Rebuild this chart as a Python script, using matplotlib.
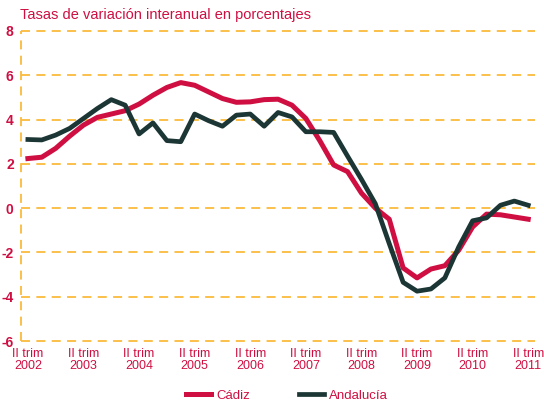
import matplotlib
matplotlib.use('Agg')
import matplotlib.pyplot as plt
import numpy as np

# Tasas de variación interanual, trimestral desde II trim 2002 hasta II trim 2011
cadiz = [2.24, 2.3, 2.7, 3.25, 3.75, 4.1, 4.25, 4.4, 4.7, 5.1,
         5.45, 5.67, 5.55, 5.25, 4.95, 4.78, 4.8, 4.9, 4.92, 4.65,
         4.05, 3.05, 1.95, 1.65, 0.68, 0.0, -0.5, -2.7, -3.15, -2.75,
         -2.6, -1.9, -0.85, -0.27, -0.3, -0.4, -0.5]
andalucia = [3.1, 3.08, 3.3, 3.6, 4.05, 4.5, 4.9, 4.65, 3.35, 3.85,
             3.05, 3.0, 4.25, 3.95, 3.7, 4.2, 4.25, 3.7, 4.32, 4.12,
             3.45, 3.45, 3.42, 2.35, 1.3, 0.2, -1.6, -3.35, -3.75, -3.65,
             -3.15, -1.75, -0.57, -0.44, 0.13, 0.32, 0.13]
years = ['2002', '2003', '2004', '2005', '2006', '2007', '2008', '2009', '2010', '2011']
yticks = [8, 6, 4, 2, 0, -2, -4, -6]

rojo = '#cf0f42'
verde = '#1b3634'
naranja = '#fbbb3c'

plt.rcParams['font.family'] = ['Liberation Sans', 'DejaVu Sans']

fig = plt.figure(figsize=(5.44, 4.01), dpi=100)
ax = fig.add_axes([0.038, 0.1496, 0.945, 0.7731])

x = np.arange(len(cadiz))
# rejilla
for v in yticks:
    ax.axhline(v, color=naranja, lw=1.3, ls=(0, (5, 3.5)), zorder=1, clip_on=False)
ax.axvline(-0.52, color=naranja, lw=1.3, ls=(0, (5, 3.5)), zorder=1, clip_on=False)

ax.plot(x, cadiz, color=rojo, lw=3.6, label='Cádiz', zorder=3)
ax.plot(x, andalucia, color=verde, lw=3.4, label='Andalucía', zorder=4)

ax.set_xlim(-0.52, 36.47)
ax.set_ylim(-6, 8)
for s in ax.spines.values():
    s.set_visible(False)

ax.set_yticks(yticks)
ax.set_yticklabels([str(v) for v in yticks], color=rojo, fontweight='bold', fontsize=10)
ax.set_xticks(np.arange(0, len(cadiz), 4))
ax.set_xticklabels(['II trim\n' + y for y in years], color=rojo, fontsize=9, linespacing=1.0)
ax.tick_params(length=0, axis='y', pad=5)
ax.tick_params(length=0, axis='x', pad=5)

fig.text(0.037, 0.962, 'Tasas de variación interanual en porcentajes', color=rojo,
         fontsize=10.5, ha='left', va='center')

leg = fig.legend(loc='center', bbox_to_anchor=(0.528, 0.013), ncol=2, frameon=False,
                 handlelength=1.9, columnspacing=3.7, handletextpad=0.4, fontsize=9.5)
for t in leg.get_texts():
    t.set_color(rojo)

plt.savefig('out.png', dpi=100)
